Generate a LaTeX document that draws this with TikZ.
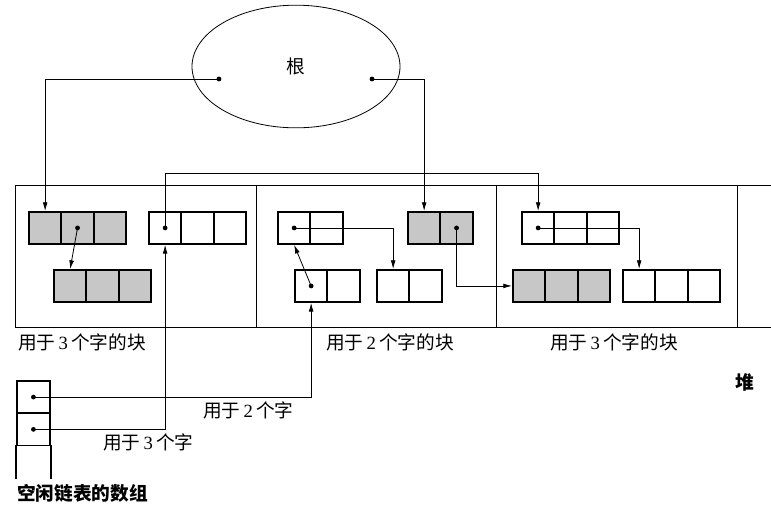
\documentclass[tikz,border=0pt]{standalone}
\usepackage{fontspec}
\setmainfont{Liberation Serif}
\newfontfamily\cjk{Noto Sans CJK SC}
\usetikzlibrary{arrows.meta,calc,positioning,shapes.geometric}

\begin{document}
\begin{tikzpicture}[x=0.75pt,y=-0.75pt,>={Latex[length=6.5pt,width=3.6pt]},
  cell/.style={draw,line width=1.4pt,minimum width=24.3pt,minimum height=24pt,inner sep=0pt,anchor=north west},
  used/.style={cell,fill=black!22},
  link/.style={line width=0.6pt},
  lbl/.style={font=\cjk\fontsize{14}{16}\selectfont,inner sep=0pt},
  hd/.style={lbl,font=\cjk\bfseries\fontsize{14}{16}\selectfont}]
\useasboundingbox (0,0) rectangle (771,519);
\node[draw,ellipse,link,minimum width=156pt,minimum height=92pt,font=\cjk\fontsize{14}{16}\selectfont] (root) at (296,66.5) {根};
\coordinate (rl) at (219,79);
\coordinate (rr) at (372,79);
\coordinate (topbus) at (0,173);
\draw[link] (15,185) -- (771,185) (15,327) -- (771,327);
\foreach \x in {15,256,496,737}
  \draw[link] (\x,185) -- (\x,327);
\foreach \n/\x/\y/\m/\s in {a/28/211/3/used,b/53/269/3/used,c/148/211/3/cell,d/277/211/2/cell,e/407/211/2/used,f/294/269/2/cell,g/376/269/2/cell,h/521/211/3/cell,i/512/269/3/used,j/622/269/3/cell}{
  \foreach \k in {1,...,\m}
    \node[\s] (\n\k) at ({\x+(\k-1)*32.4},\y) {};
}
\node[cell,minimum width=24.75pt,minimum height=24.2pt] (s1) at (16,380) {};
\node[cell,minimum width=24.75pt,minimum height=24.2pt] (s2) at (16,412.3) {};
\node[cell,draw=none,minimum width=24.75pt,minimum height=24.2pt] (s3) at (16,444.6) {};
\draw[line width=1.4pt] (s3.north west) -- (s3.south west) (s3.north east) -- (s3.south east);
\foreach \p in {rl,rr,a2,c1,d1,e2,f1,h1,s1,s2}
  \fill (\p) circle (2.4);
\draw[link,->] (rl) -| (a1.north);
\draw[link,->] (rr) -| (e1.north);
\draw[link,->] (a2.center) -- (b1.north);
\draw[link,->] (c1.center) -- (c1.center |- topbus) -| (h1.north);
\draw[link,->] (s2.center) -| (c1.south);
\draw[link,->] (s1.center) -| (f1.south);
\draw[link,->] (f1.center) -- (d1.south);
\draw[link,->] (d1.center) -| (g1.north);
\draw[link,->] (e2.center) |- (i1.west);
\draw[link,->] (h1.center) -| (j1.north);
\node[lbl,anchor=west] (l1) at (18,342) {用于\,{\rmfamily 3}\,个字的块};
\node[lbl,anchor=west] (l2) at (326,342) {用于\,{\rmfamily 2}\,个字的块};
\node[lbl,anchor=west] (l3) at (550,342) {用于\,{\rmfamily 3}\,个字的块};
\node[hd] (heap) at (745,382) {堆};
\node[lbl,anchor=west] (f2) at (203,410) {用于\,{\rmfamily 2}\,个字};
\node[lbl,anchor=west] (f3) at (103,442) {用于\,{\rmfamily 3}\,个字};
\node[hd,anchor=west] (arr) at (17,493) {空闲链表的数组};
\end{tikzpicture}
\end{document}
